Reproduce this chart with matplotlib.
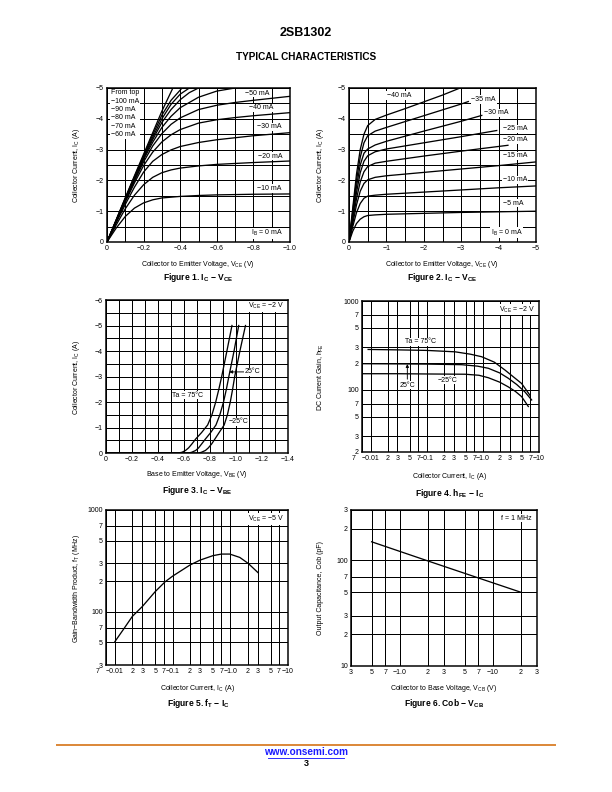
import matplotlib

matplotlib.use("Agg")
import matplotlib.pyplot as plt
from matplotlib.lines import Line2D
from matplotlib.ticker import NullLocator

plt.rcParams["font.family"] = ["Liberation Sans", "DejaVu Sans"]
plt.rcParams["mathtext.default"] = "regular"

W, H = 612, 792
M = "\u2212"

# ---- Figure 1: IC - VCE (low voltage), magnitudes ----
fig1_ib = [100, 90, 80, 70, 60, 50, 40, 30, 20, 10]
fig1_vce = [
    [0, .05, .10, .15, .20, .25, .30, .36],
    [0, .05, .10, .15, .20, .25, .30, .35, .41],
    [0, .05, .10, .15, .20, .25, .30, .35, .40, .45],
    [0, .05, .10, .15, .20, .25, .30, .35, .40, .45, .50],
    [0, .05, .10, .15, .20, .25, .30, .35, .40, .50, .60, .70],
    [0, .05, .10, .15, .20, .25, .30, .35, .40, .50, .60, .70, .80, 1.0],
    [0, .05, .10, .15, .20, .25, .30, .35, .40, .50, .60, .70, .80, 1.0],
    [0, .05, .10, .15, .20, .25, .30, .35, .40, .50, .60, .80, 1.0],
    [0, .05, .10, .15, .20, .25, .30, .35, .40, .50, .60, .80, 1.0],
    [0, .05, .10, .15, .20, .25, .30, .40, .50, .60, .80, 1.0],
]
fig1_ic = [
    [0, .72, 1.44, 2.15, 2.85, 3.55, 4.25, 5.0],
    [0, .71, 1.42, 2.12, 2.80, 3.48, 4.12, 4.60, 5.0],
    [0, .70, 1.40, 2.09, 2.76, 3.40, 4.00, 4.47, 4.80, 5.0],
    [0, .69, 1.38, 2.06, 2.72, 3.33, 3.88, 4.30, 4.62, 4.85, 5.0],
    [0, .68, 1.36, 2.02, 2.68, 3.24, 3.72, 4.08, 4.36, 4.70, 4.90, 5.0],
    [0, .67, 1.34, 1.98, 2.60, 3.12, 3.52, 3.82, 4.03, 4.30, 4.44, 4.53, 4.60, 4.73],
    [0, .66, 1.30, 1.92, 2.48, 2.92, 3.25, 3.48, 3.65, 3.86, 3.97, 4.04, 4.10, 4.20],
    [0, .62, 1.22, 1.78, 2.27, 2.62, 2.84, 2.99, 3.10, 3.23, 3.32, 3.45, 3.55],
    [0, .55, 1.08, 1.52, 1.86, 2.10, 2.25, 2.34, 2.40, 2.47, 2.52, 2.58, 2.63],
    [0, .45, .83, 1.10, 1.27, 1.37, 1.43, 1.48, 1.51, 1.53, 1.55, 1.56],
]

# ---- Figure 2: IC - VCE (to 5 V) ----
fig2_ib = [40, 35, 30, 25, 20, 15, 10, 5]
fig2_vce = [
    [0, .1, .2, .3, .4, .5, .7, 1.0, 1.5, 2.0, 2.5, 2.97],
    [0, .1, .2, .3, .4, .5, .7, 1.0, 2.0, 3.0, 3.19],
    [0, .1, .2, .3, .4, .5, .7, 1.0, 2.0, 3.0, 3.55],
    [0, .1, .2, .3, .4, .5, .7, 1.0, 2.0, 3.0, 3.95],
    [0, .1, .2, .3, .4, .5, .7, 1.0, 2.0, 3.0, 4.25],
    [0, .1, .2, .3, .4, .5, .7, 1.0, 2.0, 3.0, 4.0, 5.0],
    [0, .1, .2, .3, .4, .5, .7, 1.0, 2.0, 3.0, 4.0, 5.0],
    [0, .1, .2, .3, .4, .5, .7, 1.0, 2.0, 3.0, 4.0, 5.0],
]
fig2_ic = [
    [0, 1.10, 2.20, 3.00, 3.50, 3.78, 3.98, 4.12, 4.33, 4.55, 4.77, 5.0],
    [0, 1.00, 2.00, 2.75, 3.22, 3.45, 3.60, 3.72, 4.10, 4.48, 4.56],
    [0, .90, 1.80, 2.50, 2.88, 3.02, 3.15, 3.27, 3.60, 3.92, 4.11],
    [0, .80, 1.60, 2.25, 2.62, 2.80, 2.93, 3.02, 3.22, 3.42, 3.62],
    [0, .70, 1.40, 1.95, 2.28, 2.45, 2.56, 2.62, 2.79, 2.95, 3.14],
    [0, .60, 1.20, 1.65, 1.90, 2.02, 2.10, 2.15, 2.26, 2.37, 2.48, 2.60],
    [0, .50, .95, 1.25, 1.42, 1.49, 1.52, 1.55, 1.62, 1.69, 1.76, 1.82],
    [0, .35, .60, .74, .82, .86, .88, .90, .93, .96, .98, 1.00],
]

# ---- Figure 3: IC - VBE (Ta = 75, 25, -25 C) ----
fig3_ic = [0, 0, .03, .1, .2, .35, .55, .8, 1.1, 1.5, 2, 2.5, 3, 4, 5]
fig3_vbe = [
    [0, .558, .585, .612, .635, .66, .69, .735, .782, .815, .844, .868, .89, .93, .969],
    [0, .636, .66, .69, .712, .735, .765, .805, .846, .876, .904, .926, .945, .985, 1.021],
    [0, .714, .735, .765, .787, .812, .838, .87, .909, .934, .956, .974, .99, 1.03, 1.073],
]

# ---- Figure 4: hFE - IC (Ta = 75, 25, -25 C) ----
fig4_ic = [
    [.009, .03, .1, .32, .6, .95, 1.6, 2.48, 3.5, 4.9, 6.9],
    [.007, .03, .1, .42, .8, 1.25, 2.0, 2.84, 4.0, 5.6, 7.4],
    [.007, .03, .1, .48, .85, 1.25, 2.0, 2.84, 3.8, 4.9, 6.45],
]
fig4_hfe = [
    [285, 282, 278, 268, 252, 236, 205, 167, 140, 118, 87],
    [197, 196, 195, 192, 185, 175, 155, 135, 115, 95, 77],
    [152, 152, 151, 150, 146, 137, 122, 108, 96, 84, 65],
]

# ---- Figure 5: fT - IC ----
fig5_ic = [.01, .014, .02, .03, .05, .074, .1, .2, .3, .5, .70, .98, 1.46, 2.04, 3.03]
fig5_ft = [51, 67, 90, 113, 158, 197, 224, 288, 322, 356, 369, 369, 342, 299, 242]

# ---- Figure 6: Cob - VCB ----
fig6_vcb = [0.5, 2.0, 20]
fig6_cob = [150, 99, 50]

log_ticks = [.007, .01, .02, .03, .05, .07, .1, .2, .3, .5, .7, 1, 2, 3, 5, 7, 10]
log_labels = ["", M + "0.01", "2", "3", "5", "7", M + "0.1", "2", "3", "5", "7",
              M + "1.0", "2", "3", "5", "7", M + "10"]

FS = 7


def add_axes(fig, left, top, right, bottom):
    return fig.add_axes([left / W, 1 - bottom / H, (right - left) / W, (bottom - top) / H])


def style(ax):
    for s in ax.spines.values():
        s.set_linewidth(1.5)
    ax.tick_params(which="both", length=0, labelsize=FS, pad=3)
    ax.grid(which="both", color="black", linewidth=1.0)
    ax.set_axisbelow(True)


def ftext(fig, x, y, s, **kw):
    kw.setdefault("ha", "center")
    kw.setdefault("va", "center")
    kw.setdefault("fontsize", FS)
    fig.text(x / W, 1 - y / H, s, **kw)


def label(ax, x, y, s, ha="center"):
    ax.text(x, y, s, fontsize=FS, ha=ha, va="center", bbox=BOX)


BOX = dict(facecolor="white", edgecolor="none", pad=0.6)
ARROW = dict(arrowstyle="-|>", color="black", lw=0.9, mutation_scale=6, shrinkA=0, shrinkB=0)
LW = 1.3

fig = plt.figure(figsize=(W / 72, H / 72), dpi=72)

ftext(fig, 306, 33, "2SB1302", fontsize=12.5, fontweight="bold")
ftext(fig, 306, 57, "TYPICAL CHARACTERISTICS", fontsize=10, fontweight="bold")

# Figure 1
ax = add_axes(fig, 107, 88, 290, 242)
for v, i in zip(fig1_vce, fig1_ic):
    ax.plot(v, i, color="black", lw=LW)
ax.set_xlim(0, 1.0)
ax.set_ylim(0, 5)
ax.set_xticks([0, .2, .4, .6, .8, 1.0], ["0"] + [M + f"{x:.1f}" for x in (.2, .4, .6, .8, 1.0)])
ax.set_xticks([.1, .3, .5, .7, .9], minor=True)
ax.set_yticks(range(6), ["0"] + [M + str(k) for k in range(1, 6)])
ax.set_yticks([.5, 1.5, 2.5, 3.5, 4.5], minor=True)
style(ax)
ax.text(0.02, 4.96, "From top\n" + "\n".join(f"{M}{k} mA" for k in fig1_ib[:5]),
        fontsize=FS, va="top", ha="left", linespacing=1.28, bbox=BOX)
for txt, x, y in [(f"{M}50 mA", .82, 4.83), (f"{M}40 mA", .84, 4.36), (f"{M}30 mA", .885, 3.74),
                  (f"{M}20 mA", .89, 2.79), (f"{M}10 mA", .885, 1.74)]:
    label(ax, x, y, txt)
label(ax, .875, .28, "I$_B$ = 0 mA")
ftext(fig, 77, 165, "Collector Current, I$_C$ (A)", rotation=90)
ftext(fig, 198, 265, "Collector to Emitter Voltage, V$_{CE}$ (V)")
ftext(fig, 198, 277, "Figure 1. I$_C$ " + M + " V$_{CE}$", fontsize=8.5, fontweight="bold")

# Figure 2
ax = add_axes(fig, 349, 88, 536, 242)
for v, i in zip(fig2_vce, fig2_ic):
    ax.plot(v, i, color="black", lw=LW)
ax.set_xlim(0, 5)
ax.set_ylim(0, 5)
ax.set_xticks(range(6), ["0"] + [M + str(k) for k in range(1, 6)])
ax.set_xticks([.5, 1.5, 2.5, 3.5, 4.5], minor=True)
ax.set_yticks(range(6), ["0"] + [M + str(k) for k in range(1, 6)])
ax.set_yticks([.5, 1.5, 2.5, 3.5, 4.5], minor=True)
style(ax)
for ib, x, y in zip(fig2_ib, [1.34, 3.6, 3.94, 4.44, 4.44, 4.44, 4.44, 4.4],
                    [4.76, 4.63, 4.2, 3.68, 3.33, 2.8, 2.02, 1.26]):
    label(ax, x, y, f"{M}{ib} mA")
label(ax, 4.22, .3, "I$_B$ = 0 mA")
ftext(fig, 321, 165, "Collector Current, I$_C$ (A)", rotation=90)
ftext(fig, 442, 265, "Collector to Emitter Voltage, V$_{CE}$ (V)")
ftext(fig, 442, 277, "Figure 2. I$_C$ " + M + " V$_{CE}$", fontsize=8.5, fontweight="bold")

# Figure 3
ax = add_axes(fig, 106, 300, 288, 453)
for v in fig3_vbe:
    ax.plot(v, fig3_ic, color="black", lw=LW)
ax.set_xlim(0, 1.4)
ax.set_ylim(0, 6)
ax.set_xticks([0, .2, .4, .6, .8, 1.0, 1.2, 1.4],
              ["0"] + [M + f"{x:.1f}" for x in (.2, .4, .6, .8, 1.0, 1.2, 1.4)])
ax.set_xticks([.1, .3, .5, .7, .9, 1.1, 1.3], minor=True)
ax.set_yticks(range(7), ["0"] + [M + str(k) for k in range(1, 7)])
ax.set_yticks([.5, 1.5, 2.5, 3.5, 4.5, 5.5], minor=True)
style(ax)
label(ax, 1.37, 5.75, "V$_{CE}$ = " + M + "2 V", ha="right")
label(ax, .63, 2.27, "Ta = 75\u00b0C")
ax.annotate("25\u00b0C", xy=(.948, 3.18), xytext=(1.07, 3.18), fontsize=FS, va="center",
            bbox=BOX, arrowprops=ARROW)
label(ax, 1.02, 1.22, M + "25\u00b0C")
ftext(fig, 77, 377, "Collector Current, I$_C$ (A)", rotation=90)
ftext(fig, 197, 474, "Base to Emitter Voltage, V$_{BE}$ (V)")
ftext(fig, 197, 490, "Figure 3. I$_C$ " + M + " V$_{BE}$", fontsize=8.5, fontweight="bold")

# Figure 4
ax = add_axes(fig, 362, 301, 539, 452)
for c, h in zip(fig4_ic, fig4_hfe):
    ax.plot(c, h, color="black", lw=LW)
ax.set_xscale("log")
ax.set_yscale("log")
ax.set_xlim(.007, 10)
ax.set_ylim(20, 1000)
ax.set_xticks(log_ticks, log_labels)
ax.set_yticks([20, 30, 50, 70, 100, 200, 300, 500, 700, 1000],
              ["2", "3", "5", "7", "100", "2", "3", "5", "7", "1000"])
ax.xaxis.set_minor_locator(NullLocator())
ax.yaxis.set_minor_locator(NullLocator())
style(ax)
ax.annotate("7", xy=(.007, 0), xycoords=("data", "axes fraction"), xytext=(-8, -3),
            textcoords="offset points", fontsize=FS, ha="center", va="top")
label(ax, 8.5, 800, "V$_{CE}$ = " + M + "2 V", ha="right")
label(ax, .076, 348, "Ta = 75\u00b0C")
ax.annotate("", xy=(.045, 195), xytext=(.045, 132), arrowprops=ARROW)
label(ax, .045, 113, "25\u00b0C")
label(ax, .234, 129, M + "25\u00b0C")
ftext(fig, 321, 377, "DC Current Gain, h$_{FE}$", rotation=90)
ftext(fig, 450, 477, "Collector Current, I$_C$ (A)")
ftext(fig, 450, 493, "Figure 4. h$_{FE}$ " + M + " I$_C$", fontsize=8.5, fontweight="bold")

# Figure 5
ax = add_axes(fig, 106, 510, 288, 665)
ax.plot(fig5_ic, fig5_ft, color="black", lw=LW)
ax.set_xscale("log")
ax.set_yscale("log")
ax.set_xlim(.007, 10)
ax.set_ylim(30, 1000)
ax.set_xticks(log_ticks, log_labels)
ax.set_yticks([30, 50, 70, 100, 200, 300, 500, 700, 1000],
              ["3", "5", "7", "100", "2", "3", "5", "7", "1000"])
ax.xaxis.set_minor_locator(NullLocator())
ax.yaxis.set_minor_locator(NullLocator())
style(ax)
ax.annotate("7", xy=(.007, 0), xycoords=("data", "axes fraction"), xytext=(-8, -3),
            textcoords="offset points", fontsize=FS, ha="center", va="top")
label(ax, 8.5, 820, "V$_{CE}$ = " + M + "5 V", ha="right")
ftext(fig, 77, 588, "Gain" + M + "Bandwidth Product, f$_T$ (MHz)", rotation=90)
ftext(fig, 198, 688, "Collector Current, I$_C$ (A)")
ftext(fig, 198, 703, "Figure 5. f$_T$ " + M + " I$_C$", fontsize=8.5, fontweight="bold")

# Figure 6
ax = add_axes(fig, 351, 510, 537, 666)
ax.plot(fig6_vcb, fig6_cob, color="black", lw=LW)
ax.set_xscale("log")
ax.set_yscale("log")
ax.set_xlim(.3, 30)
ax.set_ylim(10, 300)
ax.set_xticks([.3, .5, .7, 1, 2, 3, 5, 7, 10, 20, 30],
              ["3", "5", "7", M + "1.0", "2", "3", "5", "7", M + "10", "2", "3"])
ax.set_yticks([10, 20, 30, 50, 70, 100, 200, 300],
              ["10", "2", "3", "5", "7", "100", "2", "3"])
ax.xaxis.set_minor_locator(NullLocator())
ax.yaxis.set_minor_locator(NullLocator())
style(ax)
label(ax, 26, 250, "f = 1 MHz", ha="right")
ftext(fig, 321, 588, "Output Capacitance, Cob (pF)", rotation=90)
ftext(fig, 444, 688, "Collector to Base Voltage, V$_{CB}$ (V)")
ftext(fig, 444, 703, "Figure 6. Cob " + M + " V$_{CB}$", fontsize=8.5, fontweight="bold")

# footer
fig.add_artist(Line2D([57 / W, 555 / W], [1 - 745 / H] * 2, color="#DC8A3C", lw=2))
ftext(fig, 306, 752, "www.onsemi.com", fontsize=10, fontweight="bold", color="#1a1aff")
fig.add_artist(Line2D([268 / W, 344 / W], [1 - 757.5 / H] * 2, color="#1a1aff", lw=0.9))
ftext(fig, 306, 764, "3", fontsize=9, fontweight="bold")

fig.savefig("out.png", dpi=72)
